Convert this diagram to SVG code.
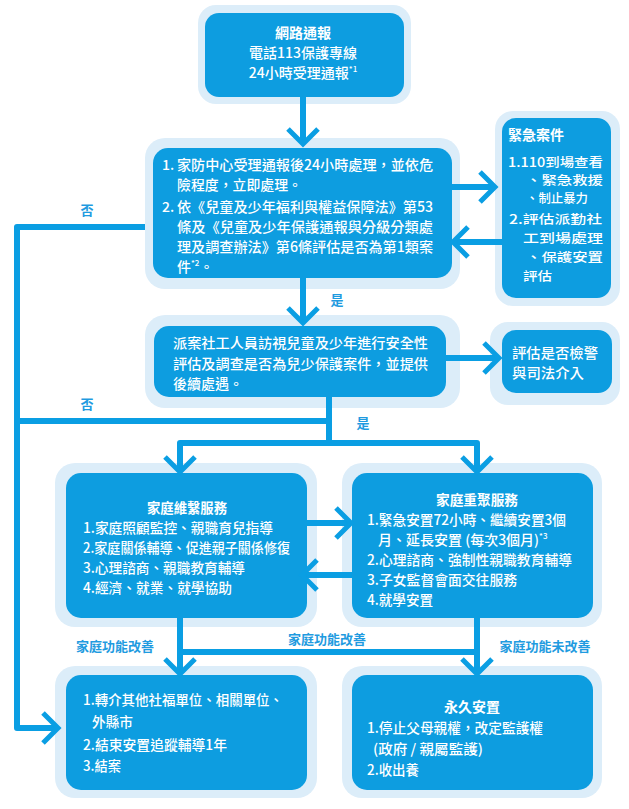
<svg xmlns="http://www.w3.org/2000/svg" width="629" height="809" viewBox="0 0 629 809">
<style>
.frame{fill:#dcedf9}
.box{fill:#0d9de0}
.t{font-family:"Noto Sans CJK TC","Noto Sans",sans-serif;font-size:14px;fill:#fff;font-weight:500}
.s{font-size:12.5px}
.b{font-weight:700}
.c{text-anchor:middle}
.sup{font-size:8px}
.lbl{font-family:"Noto Sans CJK TC","Noto Sans",sans-serif;font-size:13px;font-weight:700;fill:#1f9be0;text-anchor:middle}
.ln{fill:none;stroke:#0a9ee3;stroke-width:6;stroke-linejoin:round}
.arr{marker-end:url(#chev)}
</style>
<defs>
<marker id="chev" markerUnits="userSpaceOnUse" viewBox="-20 -20 40 40" markerWidth="40" markerHeight="40" refX="0" refY="0" orient="auto" overflow="visible">
<path d="M-15,-15 L0,0 L-15,15" fill="none" stroke="#0a9ee3" stroke-width="5"/>
</marker>
</defs>
<rect width="629" height="809" fill="#fff"/>

<g id="report">
<rect class="frame" x="198" y="5" width="213" height="99" rx="18"/>
<rect class="box" x="205" y="13" width="199" height="84" rx="14"/>
<text class="t b c" x="303" y="38">網路通報</text>
<text class="t c" x="303" y="58">電話113保護專線</text>
<text class="t c" x="303" y="78">24小時受理通報<tspan class="sup" dy="-6">*1</tspan></text>
</g>

<g id="center">
<rect class="frame" x="145" y="138" width="315" height="151" rx="20"/>
<rect class="box" x="153" y="148" width="299" height="130" rx="15"/>
<text class="t" x="162" y="170">1.</text>
<text class="t" x="177" y="170" textLength="256" lengthAdjust="spacingAndGlyphs">家防中心受理通報後24小時處理，並依危</text>
<text class="t" x="177" y="190" textLength="125" lengthAdjust="spacingAndGlyphs">險程度，立即處理。</text>
<text class="t" x="162" y="212">2.</text>
<text class="t" x="177" y="212" textLength="256" lengthAdjust="spacingAndGlyphs">依《兒童及少年福利與權益保障法》第53</text>
<text class="t" x="177" y="232" textLength="256" lengthAdjust="spacingAndGlyphs">條及《兒童及少年保護通報與分級分類處</text>
<text class="t" x="177" y="252" textLength="256" lengthAdjust="spacingAndGlyphs">理及調查辦法》第6條評估是否為第1類案</text>
<text class="t" x="177" y="272">件<tspan class="sup" dy="-6">*2</tspan><tspan dy="6">。</tspan></text>
</g>

<g id="urgent">
<rect class="frame" x="495" y="111" width="125" height="195" rx="18"/>
<rect class="box" x="502" y="118" width="109" height="180" rx="14"/>
<text class="t b" x="508" y="140">緊急案件</text>
<text class="t s" x="508" y="167" textLength="95" lengthAdjust="spacingAndGlyphs">1.110到場查看</text>
<text class="t s" x="526" y="185" textLength="77" lengthAdjust="spacingAndGlyphs">、緊急救援</text>
<text class="t s" x="526" y="203" textLength="62" lengthAdjust="spacingAndGlyphs">、制止暴力</text>
<text class="t s" x="509" y="224" textLength="93" lengthAdjust="spacingAndGlyphs">2.評估派勤社</text>
<text class="t s" x="523" y="243" textLength="80" lengthAdjust="spacingAndGlyphs">工到場處理</text>
<text class="t s" x="526" y="262" textLength="77" lengthAdjust="spacingAndGlyphs">、保護安置</text>
<text class="t s" x="523" y="281" textLength="29" lengthAdjust="spacingAndGlyphs">評估</text>
</g>

<g id="visit">
<rect class="frame" x="145" y="315" width="315" height="93" rx="20"/>
<rect class="box" x="154" y="326" width="292" height="71" rx="15"/>
<text class="t" x="173" y="348" textLength="255" lengthAdjust="spacingAndGlyphs">派案社工人員訪視兒童及少年進行安全性</text>
<text class="t" x="173" y="369" textLength="255" lengthAdjust="spacingAndGlyphs">評估及調查是否為兒少保護案件，並提供</text>
<text class="t" x="173" y="389" textLength="70" lengthAdjust="spacingAndGlyphs">後續處遇。</text>
</g>

<g id="judicial">
<rect class="frame" x="490" y="322" width="130" height="83" rx="18"/>
<rect class="box" x="502" y="330" width="110" height="63" rx="14"/>
<text class="t" x="512" y="358" textLength="86" lengthAdjust="spacingAndGlyphs">評估是否檢警</text>
<text class="t" x="512" y="378" textLength="72" lengthAdjust="spacingAndGlyphs">與司法介入</text>
</g>

<g id="preserve">
<rect class="frame" x="55" y="463" width="262" height="164" rx="20"/>
<rect class="box" x="66" y="473" width="241" height="145" rx="15"/>
<text class="t b c" x="187" y="513" textLength="80" lengthAdjust="spacingAndGlyphs">家庭維繫服務</text>
<text class="t" x="83" y="533" textLength="190" lengthAdjust="spacingAndGlyphs">1.家庭照顧監控、親職育兒指導</text>
<text class="t" x="83" y="553" textLength="207" lengthAdjust="spacingAndGlyphs">2.家庭關係輔導、促進親子關係修復</text>
<text class="t" x="83" y="573" textLength="162" lengthAdjust="spacingAndGlyphs">3.心理諮商、親職教育輔導</text>
<text class="t" x="83" y="593" textLength="149" lengthAdjust="spacingAndGlyphs">4.經濟、就業、就學協助</text>
</g>

<g id="reunify">
<rect class="frame" x="342" y="463" width="260" height="164" rx="20"/>
<rect class="box" x="352" y="473" width="241" height="145" rx="15"/>
<text class="t b c" x="477" y="505" textLength="82" lengthAdjust="spacingAndGlyphs">家庭重聚服務</text>
<text class="t" x="367" y="525" textLength="199" lengthAdjust="spacingAndGlyphs">1.緊急安置72小時、繼續安置3個</text>
<text class="t" x="378" y="545">月、延長安置 (每次3個月)<tspan class="sup" dy="-6">*3</tspan></text>
<text class="t" x="367" y="565" textLength="205" lengthAdjust="spacingAndGlyphs">2.心理諮商、強制性親職教育輔導</text>
<text class="t" x="367" y="585" textLength="150" lengthAdjust="spacingAndGlyphs">3.子女監督會面交往服務</text>
<text class="t" x="367" y="605" textLength="66" lengthAdjust="spacingAndGlyphs">4.就學安置</text>
</g>

<g id="referral">
<rect class="frame" x="55" y="666" width="262" height="132" rx="20"/>
<rect class="box" x="66" y="675" width="241" height="115" rx="15"/>
<text class="t" x="83" y="705" textLength="200" lengthAdjust="spacingAndGlyphs">1.轉介其他社福單位、相關單位、</text>
<text class="t" x="92" y="727" textLength="41" lengthAdjust="spacingAndGlyphs">外縣市</text>
<text class="t" x="83" y="750" textLength="144" lengthAdjust="spacingAndGlyphs">2.結束安置追蹤輔導1年</text>
<text class="t" x="83" y="771" textLength="38" lengthAdjust="spacingAndGlyphs">3.結案</text>
</g>

<g id="permanent">
<rect class="frame" x="342" y="666" width="260" height="132" rx="20"/>
<rect class="box" x="352" y="675" width="241" height="115" rx="15"/>
<text class="t b c" x="472" y="712">永久安置</text>
<text class="t" x="367" y="733" textLength="176" lengthAdjust="spacingAndGlyphs">1.停止父母親權，改定監護權</text>
<text class="t" x="373" y="754" textLength="110" lengthAdjust="spacingAndGlyphs">(政府 / 親屬監護)</text>
<text class="t" x="367" y="775" textLength="52" lengthAdjust="spacingAndGlyphs">2.收出養</text>
</g>

<g id="connectors">
<path class="ln arr" d="M303,97 V144"/>
<path class="ln arr" d="M452,187 H495"/>
<path class="ln arr" d="M502,242 H453"/>
<path class="ln arr" d="M303,278 V323"/>
<path class="ln arr" d="M145,227 H17 V728 H58"/>
<path class="ln arr" d="M446,358 H499"/>
<path class="ln" d="M329,397 V443"/>
<path class="ln" d="M17,421 H329"/>
<path class="ln arr" d="M329,443 H180 V472"/>
<path class="ln arr" d="M329,443 H477 V472"/>
<path class="ln arr" d="M307,523 H351"/>
<path class="ln arr" d="M352,575 H302"/>
<path class="ln arr" d="M180,618 V674"/>
<path class="ln arr" d="M477,618 V674"/>
<path class="ln" d="M180,652 H477"/>
<text class="lbl" x="87" y="215">否</text>
<text class="lbl" x="87" y="409">否</text>
<text class="lbl" x="337" y="305">是</text>
<text class="lbl" x="363" y="428">是</text>
<text class="lbl" x="115" y="651">家庭功能改善</text>
<text class="lbl" x="327" y="644">家庭功能改善</text>
<text class="lbl" x="545" y="651">家庭功能未改善</text>
</g>
</svg>
